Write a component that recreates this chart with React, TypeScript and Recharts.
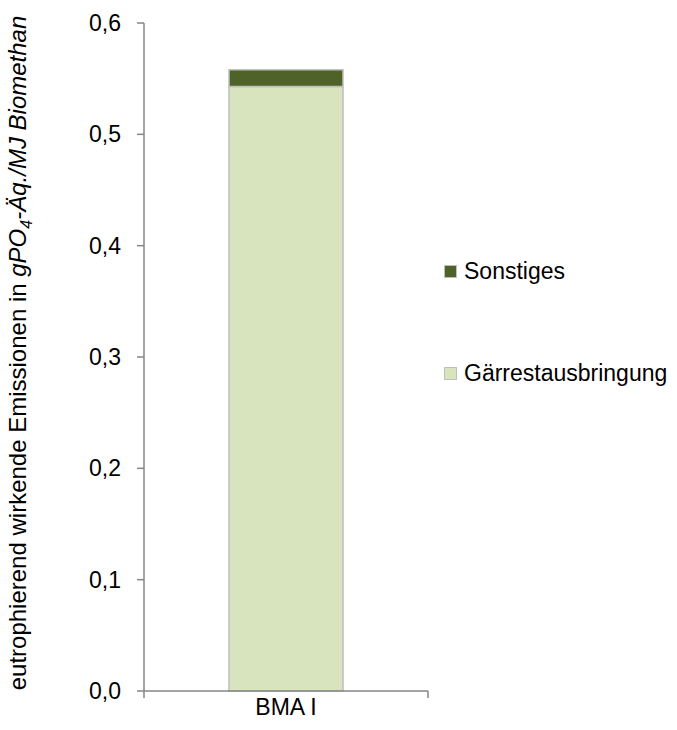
import { BarChart, Bar, XAxis, YAxis, Legend } from "recharts";

// Kategorien und Werte
const categories = ["BMA I"];
const gaerrest = [0.543];
const sonstiges = [0.015];
const yTicks = [0, 0.1, 0.2, 0.3, 0.4, 0.5, 0.6];

const seriesNames = { gaerrest: "Gärrestausbringung", sonstiges: "Sonstiges" };
const colors = { gaerrest: "#D7E4BD", sonstiges: "#4F6228" };

const data = categories.map((name, i) => ({
  name,
  gaerrest: gaerrest[i],
  sonstiges: sonstiges[i],
}));

const FONT = "'Liberation Sans', Arial, sans-serif";
const FS = 23;
const AXIS = "#868686";
const X_TICK_SIZE = 6;
const X_TICK_MARGIN = 2;

const YLabel = ({ viewBox }: any) => {
  const cx = 26;
  const cy = viewBox.y + viewBox.height / 2 - 4;
  return (
    <text
      x={cx}
      y={cy}
      transform={`rotate(-90, ${cx}, ${cy})`}
      textAnchor="middle"
      fontSize={24}
      fontFamily={FONT}
      fill="#000"
    >
      <tspan>eutrophierend wirkende Emissionen in </tspan>
      <tspan fontStyle="italic">gPO</tspan>
      <tspan fontStyle="italic" fontSize={16} dy={6}>4</tspan>
      <tspan fontStyle="italic" dy={-6}>-Äq./MJ Biomethan</tspan>
    </text>
  );
};

// Kategorie-Beschriftung plus Teilstriche an den Kategoriegrenzen (wie Excel)
const XTick = ({ x, y, payload }: any) => {
  const half = payload.offset || 0;
  const axisY = y - X_TICK_SIZE - X_TICK_MARGIN;
  return (
    <g>
      <line x1={x - half} x2={x - half} y1={axisY} y2={axisY + 7} stroke={AXIS} strokeWidth={1.5} />
      <line x1={x + half} x2={x + half} y1={axisY} y2={axisY + 7} stroke={AXIS} strokeWidth={1.5} />
      <text x={x} y={y} dy="0.71em" textAnchor="middle" fontSize={FS} fontFamily={FONT} fill="#000">
        {payload.value}
      </text>
    </g>
  );
};

const LegendBox = () => {
  const items = [
    { key: "sonstiges", top: 0 },
    { key: "gaerrest", top: 102 },
  ] as const;
  return (
    <div style={{ position: "relative", fontFamily: FONT, fontSize: FS }}>
      {items.map((it) => (
        <div
          key={it.key}
          style={{ position: "absolute", top: it.top, left: 0, display: "flex", alignItems: "center", whiteSpace: "nowrap", lineHeight: "26px" }}
        >
          <span
            style={{
              display: "inline-block",
              width: 11,
              height: 11,
              background: colors[it.key],
              border: "1px solid #BFBFBF",
              marginRight: 7,
            }}
          />
          <span style={{ color: "#000" }}>{seriesNames[it.key]}</span>
        </div>
      ))}
    </div>
  );
};

export default function App() {
  return (
    <div style={{ position: "absolute", left: 0, top: 0, background: "#fff" }}>
      <BarChart
        width={677}
        height={730}
        data={data}
        margin={{ top: 23, right: 249, bottom: 9, left: 0 }}
        barSize={114}
      >
        <XAxis
          dataKey="name"
          height={30}
          axisLine={{ stroke: AXIS, strokeWidth: 1.5 }}
          tickLine={false}
          tickSize={X_TICK_SIZE}
          tickMargin={X_TICK_MARGIN}
          tick={<XTick />}
          interval={0}
        />
        <YAxis
          width={144}
          domain={[0, 0.6]}
          ticks={yTicks}
          interval={0}
          axisLine={{ stroke: AXIS, strokeWidth: 1.5 }}
          tickLine={{ stroke: AXIS, strokeWidth: 1.5 }}
          tickSize={7}
          tickMargin={16}
          tick={{ fontSize: FS, fontFamily: FONT, fill: "#000" }}
          tickFormatter={(v: number) => v.toFixed(1).replace(".", ",")}
          label={<YLabel />}
        />
        <Legend
          layout="horizontal"
          align="center"
          verticalAlign="middle"
          content={<LegendBox />}
          wrapperStyle={{ left: 444, top: 258, width: 233 }}
        />
        <Bar
          dataKey="gaerrest"
          stackId="a"
          name={seriesNames.gaerrest}
          fill={colors.gaerrest}
          stroke="#BFBFBF"
          strokeWidth={1.5}
          isAnimationActive={false}
        />
        <Bar
          dataKey="sonstiges"
          stackId="a"
          name={seriesNames.sonstiges}
          fill={colors.sonstiges}
          stroke="#BFBFBF"
          strokeWidth={1.5}
          isAnimationActive={false}
        />
      </BarChart>
    </div>
  );
}
